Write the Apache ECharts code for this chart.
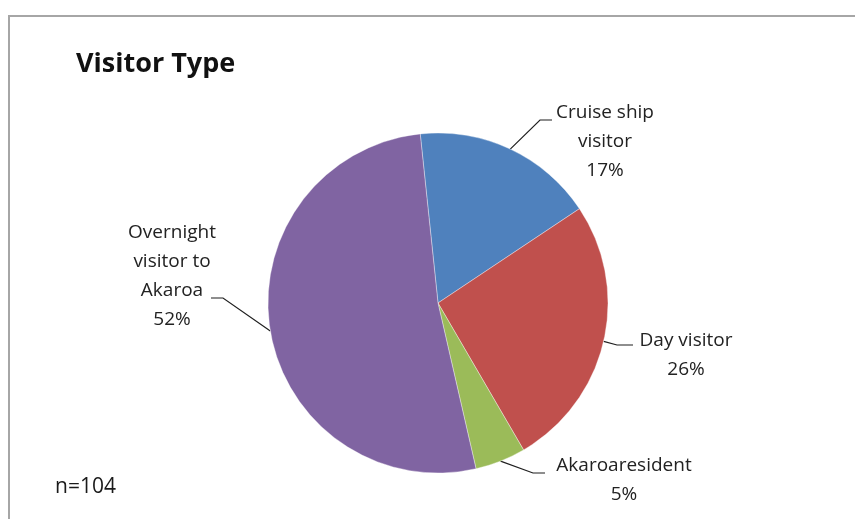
<!DOCTYPE html>
<html>
<head>
<meta charset="utf-8">
<script src="https://cdn.jsdelivr.net/npm/echarts@6/dist/echarts.min.js"></script>
<style>
  html, body { margin: 0; padding: 0; background: #ffffff; }
  #chart { width: 855px; height: 519px; }
</style>
</head>
<body>
<div id="chart"></div>
<script>
// Visitor type breakdown (n = 104 respondents)
const categories = ['Cruise ship visitor', 'Day visitor', 'Akaroa resident', 'Overnight visitor to Akaroa'];
const counts = [18, 27, 5, 54];
const labelNames = ['Cruise ship\nvisitor', 'Day visitor', 'Akaroaresident', 'Overnight\nvisitor to\nAkaroa'];
const sliceColors = ['#4F81BD', '#C0504D', '#9BBB59', '#8064A2'];
const sampleNote = 'n=104';

// Label block centres and leader-line bends (elbow, then horizontal end)
const labelSpots = [
  { x: 605, y: 142, elbow: [540, 120], end: [552, 120] },
  { x: 686, y: 355, elbow: [617, 345], end: [633, 345] },
  { x: 624, y: 480, elbow: [533, 473], end: [545, 473] },
  { x: 172, y: 276, elbow: [223, 298], end: [211, 298] }
];

const pieCenter = [438, 303];
const pieRadius = 170;
const startAngle = 96;

const chart = echarts.init(document.getElementById('chart'), null, { renderer: 'canvas' });

const total = counts.reduce((a, b) => a + b, 0);
function edgePoint(i) {
  let before = 0;
  for (let k = 0; k < i; k++) before += counts[k];
  const mid = (before + counts[i] / 2) / total * 360;
  const a = (startAngle - mid) * Math.PI / 180;
  return [pieCenter[0] + pieRadius * Math.cos(a), pieCenter[1] - pieRadius * Math.sin(a)];
}

chart.setOption({
  animation: false,
  title: {
    text: 'Visitor Type',
    left: 71,
    top: 46,
    textStyle: { fontFamily: 'Open Sans', fontWeight: 'bold', fontSize: 27, color: '#111111' }
  },
  graphic: [
    {
      type: 'rect',
      shape: { x: 9, y: 16, width: 900, height: 600 },
      style: { fill: 'none', stroke: '#a6a6a6', lineWidth: 2 },
      silent: true
    },
    {
      type: 'text',
      left: 55,
      top: 477,
      style: { text: sampleNote, fontFamily: 'Open Sans', fontSize: 21, fill: '#1a1a1a' }
    }
  ],
  series: [{
    type: 'pie',
    center: pieCenter,
    radius: pieRadius,
    startAngle: startAngle,
    clockwise: true,
    avoidLabelOverlap: false,
    data: categories.map((name, i) => ({
      name: name,
      value: counts[i],
      itemStyle: { color: sliceColors[i] }
    })),
    itemStyle: { borderColor: 'rgba(255,255,255,0.6)', borderWidth: 0.6 },
    label: {
      show: true,
      position: 'outside',
      formatter: (p) => labelNames[p.dataIndex] + '\n' + Math.round(p.percent) + '%',
      fontFamily: 'Open Sans',
      fontSize: 19,
      lineHeight: 29,
      color: '#222222',
      align: 'center'
    },
    labelLine: {
      show: true,
      length: 10,
      length2: 10,
      smooth: false,
      lineStyle: { color: '#1f1f1f', width: 1.2 }
    },
    labelLayout: function (params) {
      const i = params.dataIndex;
      const spot = labelSpots[i];
      const start = (params.labelLinePoints && params.labelLinePoints[0]) || edgePoint(i);
      return {
        x: spot.x,
        y: spot.y,
        align: 'center',
        verticalAlign: 'middle',
        labelLinePoints: [start, spot.elbow, spot.end]
      };
    },
    emphasis: { disabled: true }
  }]
});
</script>
</body>
</html>
